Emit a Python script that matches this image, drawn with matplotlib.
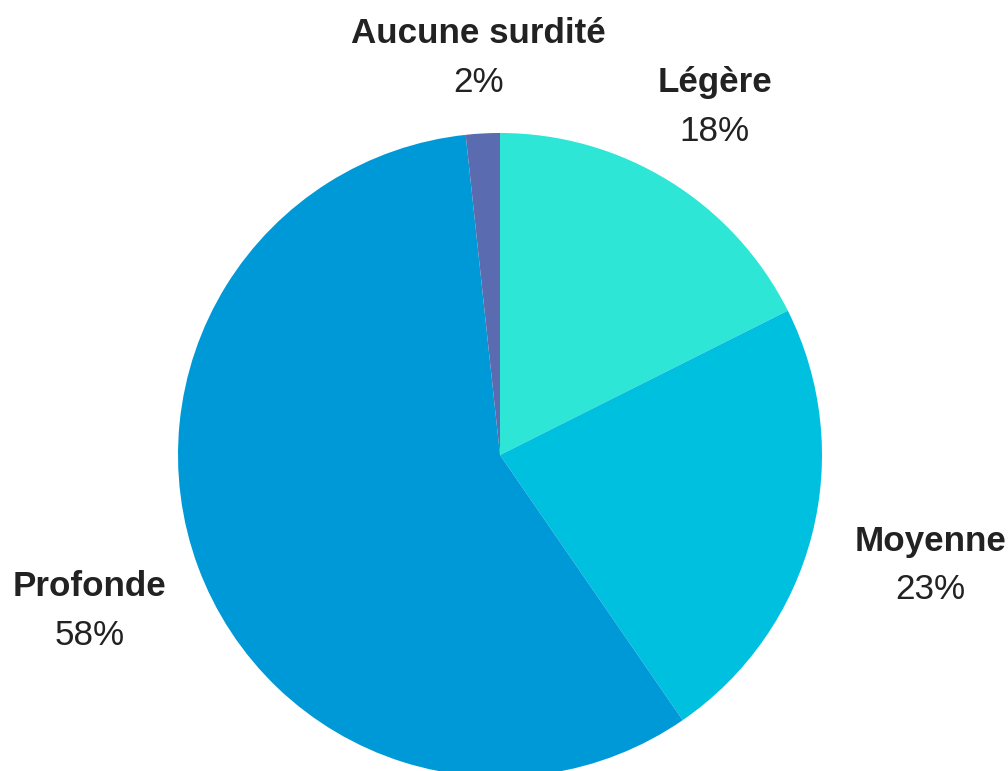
import numpy as np
import matplotlib
matplotlib.use("Agg")
import matplotlib.pyplot as plt

categories = ["Légère", "Moyenne", "Profonde", "Aucune surdité"]
values = [17.6, 22.8, 57.9, 1.7]
colors = ["#2EE6D6", "#00C0E0", "#0099D8", "#5B6BB0"]

plt.rcParams['font.family'] = ['Liberation Sans', 'DejaVu Sans']

W, H = 1008, 771
R = 322.0
cx, cy = 500.0, 455.0  # pixel centre (from top)

fig = plt.figure(figsize=(W / 100, H / 100), dpi=100)
ax = fig.add_axes([0, 0, 1, 1])

wedges, _ = ax.pie(values, colors=colors, startangle=90, counterclock=False,
                   radius=1.0, center=(0, 0), frame=True,
                   wedgeprops=dict(linewidth=0))
ax.set_xlim(-cx / R, (W - cx) / R)
ax.set_ylim(-(H - cy) / R, cy / R)
ax.set_aspect('equal')
ax.axis('off')

label_r = [1.27, 1.38, 1.365, 1.235]
label_dang = [0.0, 0.0, 0.5, 0.0]  # small angular nudges (degrees)
total = sum(values)
cum = 0.0
for cat, v, lr, da in zip(categories, values, label_r, label_dang):
    mid = cum + v / 2
    cum += v
    ang = np.deg2rad(90 - 360 * mid / total + da)
    x, y = lr * np.cos(ang), lr * np.sin(ang)
    ax.text(x, y + 0.076, cat, ha='center', va='center', fontsize=25.2,
            fontweight='bold', color='#222222')
    ax.text(x, y - 0.076, f"{round(100 * v / total)}%", ha='center', va='center',
            fontsize=25.2, color='#222222')

fig.savefig("out.png", dpi=100)
